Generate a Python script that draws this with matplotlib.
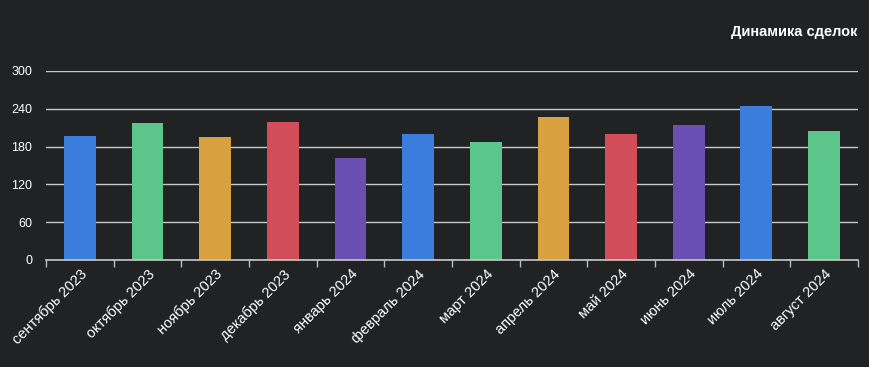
import matplotlib.pyplot as plt
import numpy as np

plt.rcParams['font.family'] = ['Liberation Sans', 'DejaVu Sans']

# Monthly deals data
months = ['сентябрь 2023', 'октябрь 2023', 'ноябрь 2023', 'декабрь 2023',
          'январь 2024', 'февраль 2024', 'март 2024', 'апрель 2024',
          'май 2024', 'июнь 2024', 'июль 2024', 'август 2024']
deals = [196, 218, 195, 219, 162, 200, 187, 227, 200, 214, 245, 204]
palette = ['#3b7ddd', '#5cc58a', '#d9a040', '#d24d5a', '#6a4fb3']
colors = [palette[i % len(palette)] for i in range(len(months))]

bg = '#212224'
fig = plt.figure(figsize=(8.7, 3.67), dpi=100, facecolor=bg)
ax = fig.add_axes([0.053, 0.2916, 0.933, 0.515], facecolor=bg)

x = np.arange(len(months))
ax.bar(x, deals, width=0.47, color=colors, zorder=3)

ax.set_ylim(0, 300)
ax.set_yticks(range(0, 301, 60))
ax.set_xlim(-0.5, len(months) - 0.5)

# ticks at category boundaries, labels at centers
ax.set_xticks(np.arange(-0.5, len(months), 1.0))
ax.set_xticklabels([])
ax.set_xticks(x, minor=True)
ax.set_xticklabels(months, minor=True, rotation=45, ha='right',
                   rotation_mode='anchor', color='white', fontsize=10.5)
ax.tick_params(axis='x', which='minor', length=0, pad=5)
ax.tick_params(axis='x', which='major', length=5, color='#bbbbbb', width=1)
ax.tick_params(axis='y', length=0, labelcolor='white', labelsize=9, pad=10)

ax.grid(axis='y', color='#c8c8c8', linewidth=1, zorder=0)
for s in ['top', 'right', 'left']:
    ax.spines[s].set_visible(False)
ax.spines['bottom'].set_color('#c8c8c8')
ax.spines['bottom'].set_linewidth(1.2)
ax.spines['bottom'].set_zorder(4)

fig.text(0.986, 0.913, 'Динамика сделок', ha='right', va='center',
         color='white', fontsize=10.5, fontweight='bold')

fig.savefig('out.png', dpi=100, facecolor=bg)
